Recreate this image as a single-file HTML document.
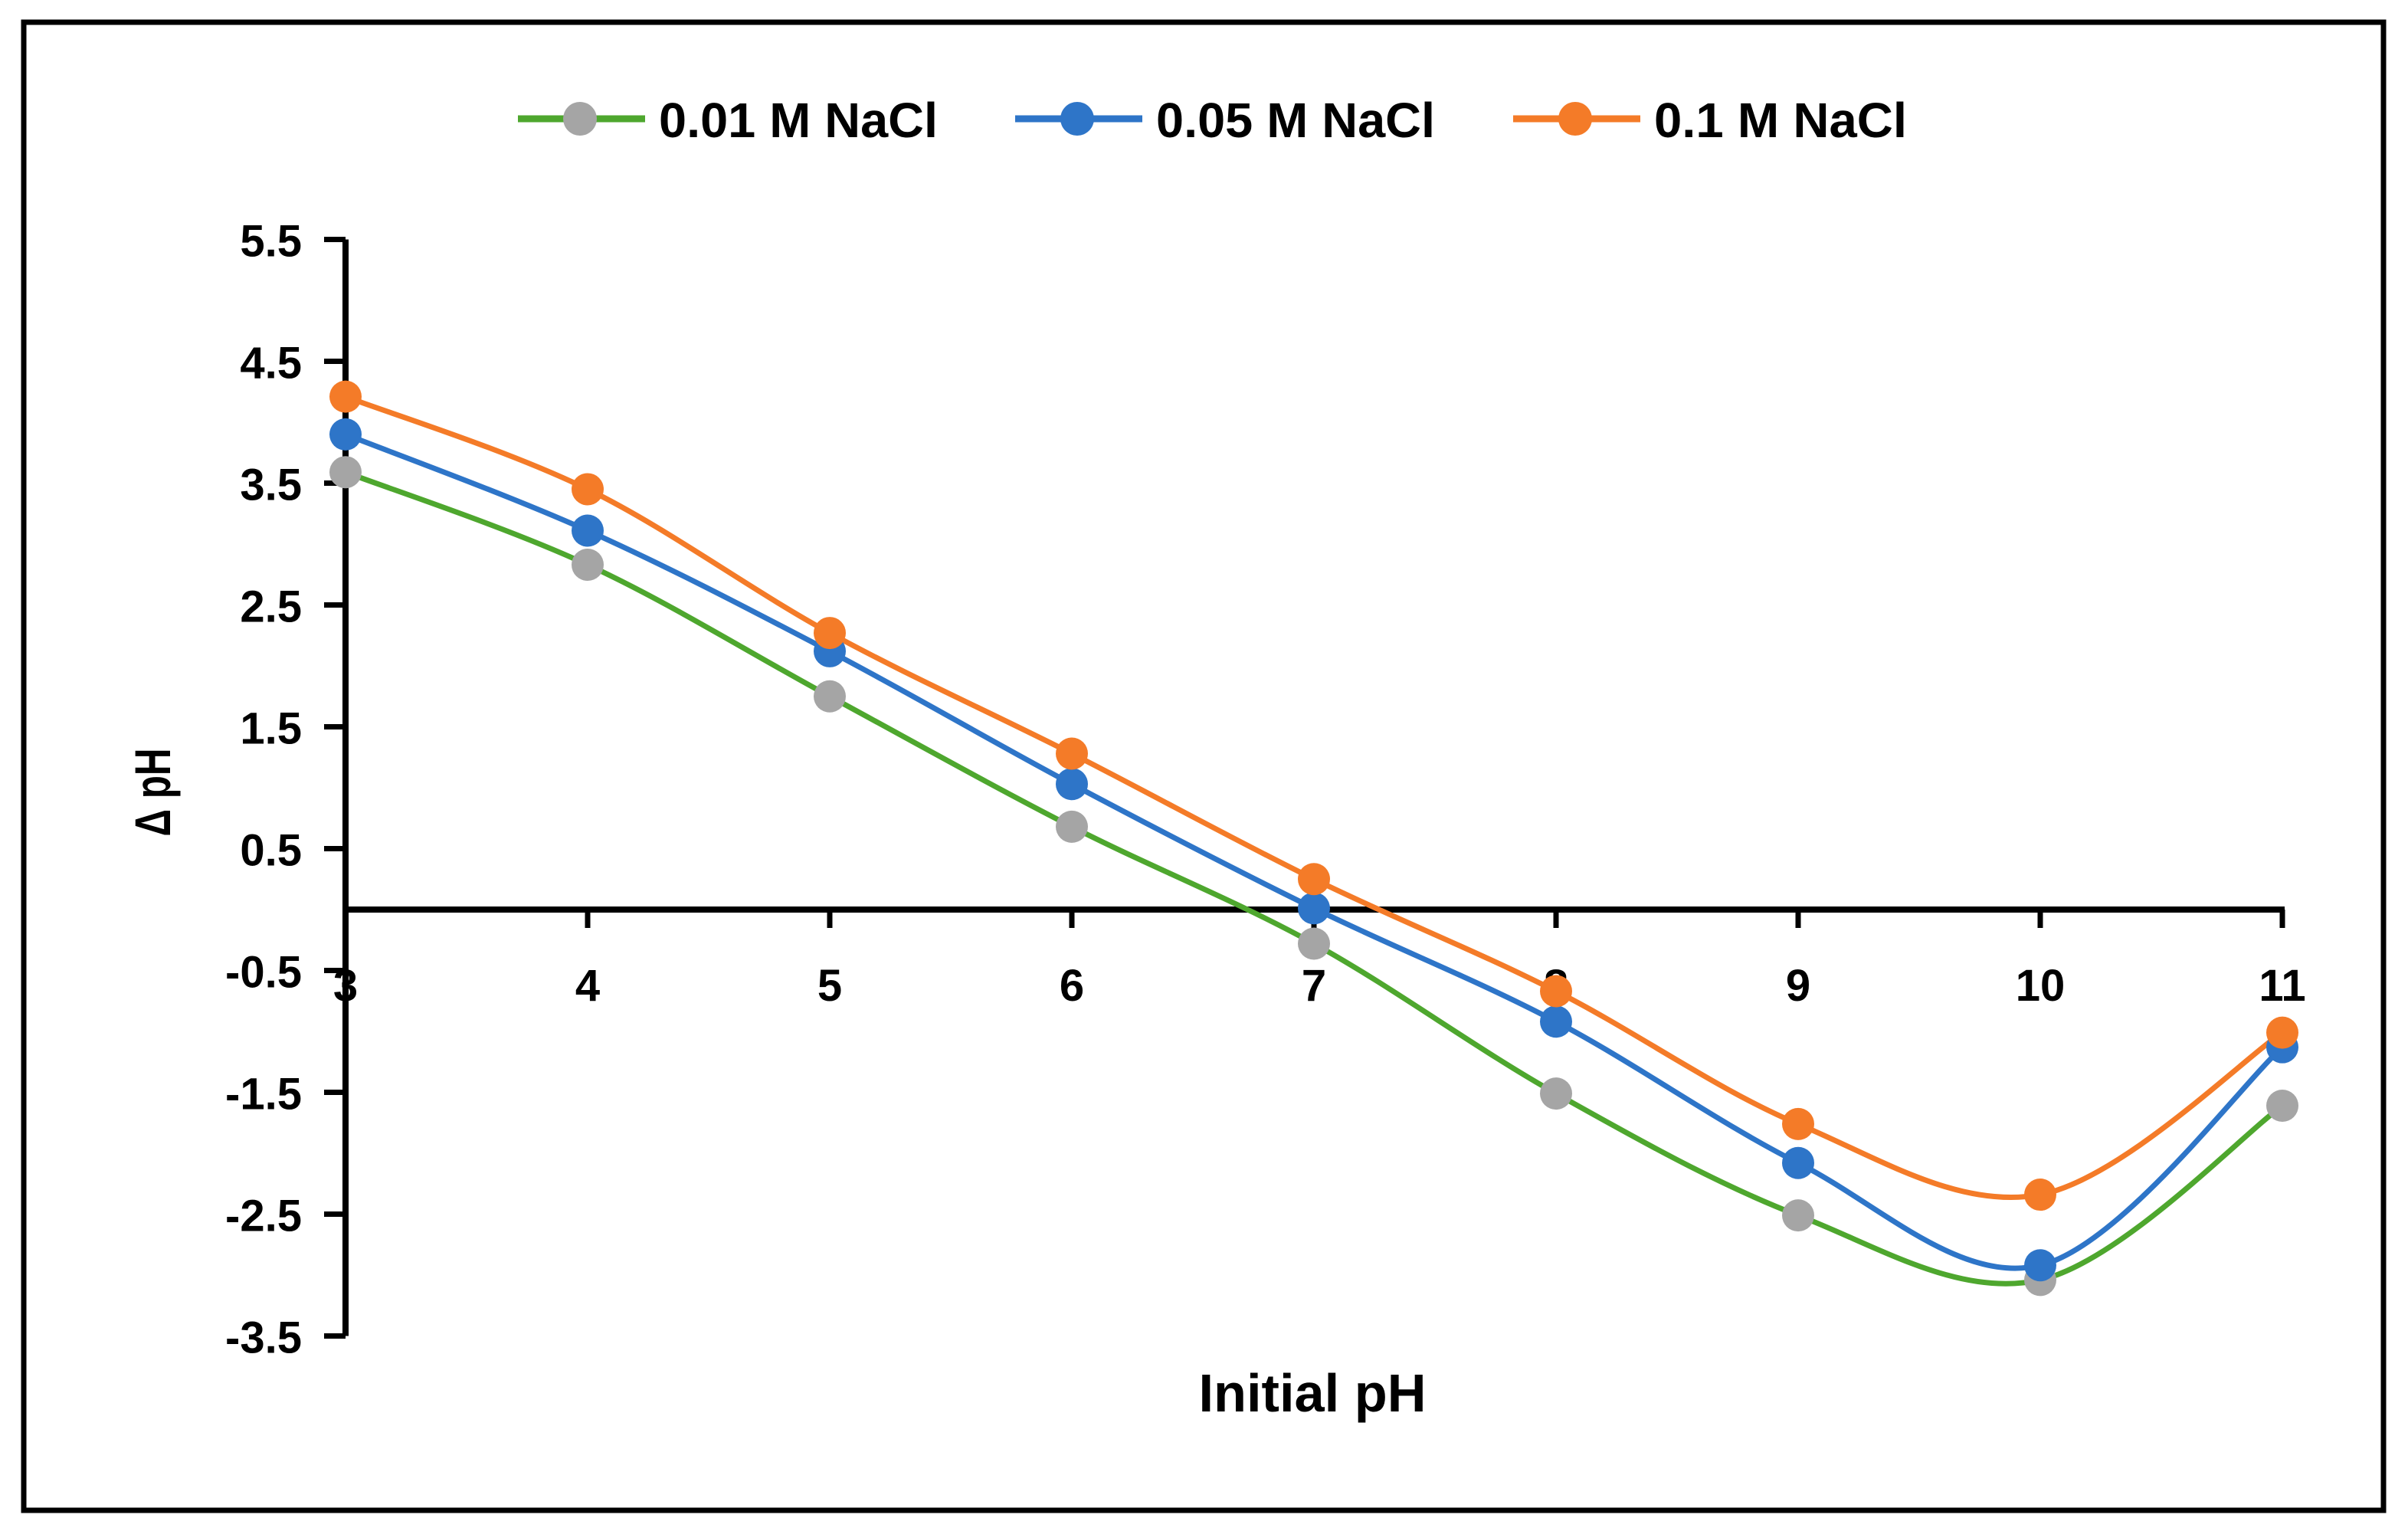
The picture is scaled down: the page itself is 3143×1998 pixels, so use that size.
<!DOCTYPE html>
<html><head><meta charset="utf-8"><style>
html,body{margin:0;padding:0;background:#fff;}
svg{display:block;}
text{font-family:"Liberation Sans",sans-serif;font-weight:bold;fill:#000;}
</style></head><body>
<svg id="chart" width="3143" height="1998" viewBox="0 0 3143 1998" xmlns="http://www.w3.org/2000/svg">
<rect x="31" y="29" width="3080" height="1942" fill="#fff" stroke="#000" stroke-width="7"/>
<g id="legend"></g>
<g id="axes"></g>
<g id="series"></g>
<text x="1713" y="1842" font-size="70" text-anchor="middle" textLength="297" lengthAdjust="spacingAndGlyphs">Initial pH</text>
<text transform="translate(222,1034) rotate(-90)" font-size="66" text-anchor="middle" textLength="115" lengthAdjust="spacingAndGlyphs">Δ pH</text>
</svg>
<script>
const categories = [3, 4, 5, 6, 7, 8, 9, 10, 11];
const seriesNames = ["0.01 M NaCl", "0.05 M NaCl", "0.1 M NaCl"];
const values001 = [3.59, 2.83, 1.75, 0.68, -0.28, -1.51, -2.51, -3.04, -1.61];
const values005 = [3.90, 3.11, 2.12, 1.03, 0.01, -0.92, -2.08, -2.92, -1.13];
const values01 = [4.21, 3.45, 2.27, 1.28, 0.25, -0.67, -1.76, -2.34, -1.01];
const yTicks = [5.5, 4.5, 3.5, 2.5, 1.5, 0.5, -0.5, -1.5, -2.5, -3.5];
const xTickLabels = ["3", "4", "5", "6", "7", "8", "9", "10", "11"];

const NS = "http://www.w3.org/2000/svg";
const X0 = 451, XU = 316, Y0 = 1187, YU = 159;
function xs(v){ return X0 + (v - 3) * XU; }
function ys(v){ return Y0 - v * YU; }
function mk(tag, attrs, parent){
  const e = document.createElementNS(NS, tag);
  for (const k in attrs) e.setAttribute(k, attrs[k]);
  parent.appendChild(e);
  return e;
}
const axes = document.getElementById('axes');
// y axis
let yl = mk('line', {x1: X0, y1: ys(5.5), x2: X0, y2: ys(-3.5), stroke: '#000', 'stroke-width': 8}, axes);


yTicks.forEach(t => {
  const tk = mk('line', {x1: X0 - 28, y1: ys(t), x2: X0, y2: ys(t), stroke: '#000', 'stroke-width': 7}, axes);
  
  
  const lb = mk('text', {x: 394, y: ys(t) + 22, 'font-size': 58, 'text-anchor': 'end'}, axes);
  lb.textContent = t.toFixed(1);
  
  
});
// x axis
let xl = mk('line', {x1: X0, y1: Y0, x2: xs(11) + 3, y2: Y0, stroke: '#000', 'stroke-width': 8}, axes);


categories.forEach((c, i) => {
  const tk = mk('line', {x1: xs(c), y1: Y0, x2: xs(c), y2: Y0 + 24, stroke: '#000', 'stroke-width': 7}, axes);
  
  
  const lb = mk('text', {x: xs(c), y: 1306, 'font-size': 58, 'text-anchor': 'middle'}, axes);
  lb.textContent = xTickLabels[i];
  
  
});
// series
const seriesData = [values001, values005, values01];
const lineColors = ['#4ea72e', '#2e75c8', '#f47b28'];
const markerColors = ['#a5a5a5', '#2e75c8', '#f47b28'];
function smoothPath(pts){
  let d = 'M' + pts[0][0] + ',' + pts[0][1];
  for (let i = 0; i < pts.length - 1; i++){
    const p0 = pts[Math.max(0, i - 1)], p1 = pts[i], p2 = pts[i + 1], p3 = pts[Math.min(pts.length - 1, i + 2)];
    const c1x = p1[0] + (p2[0] - p0[0]) / 6, c1y = p1[1] + (p2[1] - p0[1]) / 6;
    const c2x = p2[0] - (p3[0] - p1[0]) / 6, c2y = p2[1] - (p3[1] - p1[1]) / 6;
    d += ' C' + c1x + ',' + c1y + ' ' + c2x + ',' + c2y + ' ' + p2[0] + ',' + p2[1];
  }
  return d;
}
const sg = document.getElementById('series');
seriesData.forEach((vals, s) => {
  const pts = vals.map((v, i) => [xs(categories[i]), ys(v)]);
  const p = mk('path', {d: smoothPath(pts), fill: 'none', stroke: lineColors[s], 'stroke-width': 7}, sg);
  
  
});
seriesData.forEach((vals, s) => {
  vals.forEach((v, i) => {
    const c = mk('circle', {cx: xs(categories[i]), cy: ys(v), r: 21, fill: markerColors[s]}, sg);
    
    
  });
});
// legend
const lg = document.getElementById('legend');
const legX = [676, 1325, 1975];
const textW = [364, 364, 330];
seriesNames.forEach((n, s) => {
  const x = legX[s], y = 155;
  const l = mk('line', {x1: x, y1: y, x2: x + 166, y2: y, stroke: lineColors[s], 'stroke-width': 9}, lg);
  
  
  const c = mk('circle', {cx: x + 81, cy: y, r: 22, fill: markerColors[s]}, lg);
  
  
  const t = mk('text', {x: x + 184, y: y + 24, 'font-size': 64, textLength: textW[s], lengthAdjust: 'spacingAndGlyphs'}, lg);
  t.textContent = n;
  
  
});
</script>
</body></html>
